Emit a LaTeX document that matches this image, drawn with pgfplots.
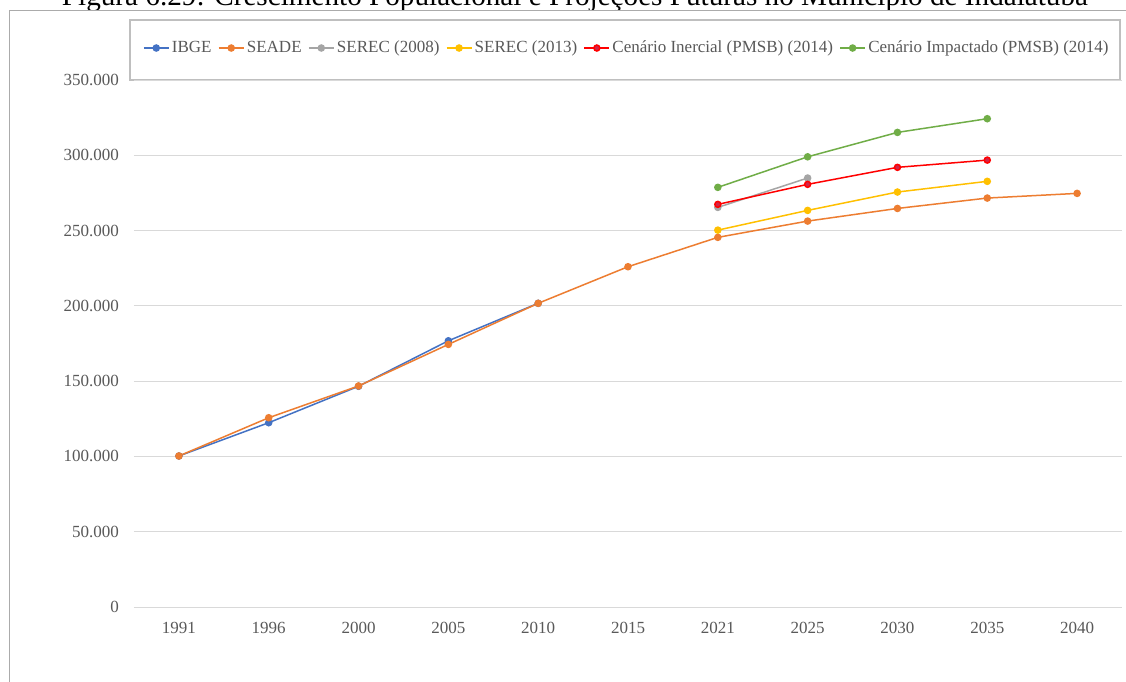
\documentclass[border=0pt]{standalone}
\usepackage{pgfplots}
\pgfplotsset{compat=1.18}
\usepackage{fontspec}
\setmainfont{Liberation Serif}
\definecolor{cIBGE}{HTML}{4472C4}
\definecolor{cSEADE}{HTML}{ED7D31}
\definecolor{cSERECa}{HTML}{A5A5A5}
\definecolor{cSERECb}{HTML}{FFC000}
\definecolor{cInerc}{HTML}{FF0000}
\definecolor{cInercM}{HTML}{D02448}
\definecolor{cImpac}{HTML}{70AD47}
\definecolor{cTick}{HTML}{595959}
\definecolor{cGrid}{HTML}{D9D9D9}
\definecolor{cFrame}{HTML}{ABABAB}
\definecolor{cLeg}{HTML}{BFBFBF}
\begin{document}
\begin{tikzpicture}
\useasboundingbox (0,0) rectangle (563pt,-340.5pt);
\clip (0,0) rectangle (563pt,-340.5pt);
\fill[white] (0,0) rectangle (563pt,-340.5pt);
\begin{scope}
\clip (0,0) rectangle (563pt,-4.8pt);
\node[anchor=base, inner sep=0pt] at (287.5pt,-2.8pt) {\resizebox{513pt}{!}{Figura 6.29: Crescimento Populacional e Projeções Futuras no Município de Indaiatuba}};
\end{scope}
\draw[cFrame, line width=0.6pt] (4.6pt,-400pt) -- (4.6pt,-5.2pt) -- (600pt,-5.2pt);
\draw[cLeg, line width=0.6pt] (65pt,-10pt) rectangle (560pt,-40pt);
\begin{axis}[
  at={(67pt,-303.5pt)}, anchor=south west,
  scale only axis, width=494pt, height=263.5pt,
  xmin=-0.5, xmax=10.5, ymin=0, ymax=350000,
  axis line style={draw=none}, tick style={draw=none},
  ymajorgrids, grid style={cGrid, line width=0.5pt},
  xtick={0,...,10},
  xticklabels={1991,1996,2000,2005,2010,2015,2021,2025,2030,2035,2040},
  ytick={0,50000,100000,150000,200000,250000,300000,350000},
  yticklabels={0,50.000,100.000,150.000,200.000,250.000,300.000,350.000},
  scaled y ticks=false,
  tick label style={font=\fontsize{8.5pt}{10pt}\selectfont, text=cTick},
  yticklabel style={xshift=-4pt},
  xticklabel style={yshift=-4pt},
  clip=false,
  legend columns=6,
  legend style={at={(0.499,1.0607)}, anchor=center, draw=none, fill=none,
    font=\fontsize{8.5pt}{10pt}\selectfont, text=cTick,
    nodes={inner xsep=1.2pt},
    /tikz/every even column/.append style={column sep=2pt}},
  legend image code/.code={\draw[mark repeat=2,mark phase=2] plot coordinates {(0pt,0pt)(6.25pt,0pt)(12.5pt,0pt)};},
  every axis plot/.append style={line width=0.75pt, mark=*, mark size=1.5pt},
]
\addplot[cIBGE, mark options={fill=cIBGE, draw=cIBGE}] coordinates {
(0,100300) (1,122400) (2,146600) (3,176800) (4,201700)};
\addlegendentry{IBGE}
\addplot[cSEADE, mark options={fill=cSEADE, draw=cSEADE}] coordinates {
(0,100300) (1,125700) (2,146800) (3,174400) (4,201700) (5,226000)
(6,245500) (7,256300) (8,264700) (9,271600) (10,274700)};
\addlegendentry{SEADE}
\addplot[cSERECa, mark options={fill=cSERECa, draw=cSERECa}] coordinates {
(6,265400) (7,284900)};
\addlegendentry{SEREC (2008)}
\addplot[cSERECb, mark options={fill=cSERECb, draw=cSERECb}] coordinates {
(6,250300) (7,263400) (8,275600) (9,282700)};
\addlegendentry{SEREC (2013)}
\addplot[cInerc, mark options={fill=cInercM, draw=cInerc}] coordinates {
(6,267400) (7,280700) (8,292000) (9,296800)};
\addlegendentry{Cenário Inercial (PMSB) (2014)}
\addplot[cImpac, mark options={fill=cImpac, draw=cImpac}] coordinates {
(6,278700) (7,299000) (8,315200) (9,324300)};
\addlegendentry{Cenário Impactado (PMSB) (2014)}
\end{axis}
\end{tikzpicture}
\end{document}
